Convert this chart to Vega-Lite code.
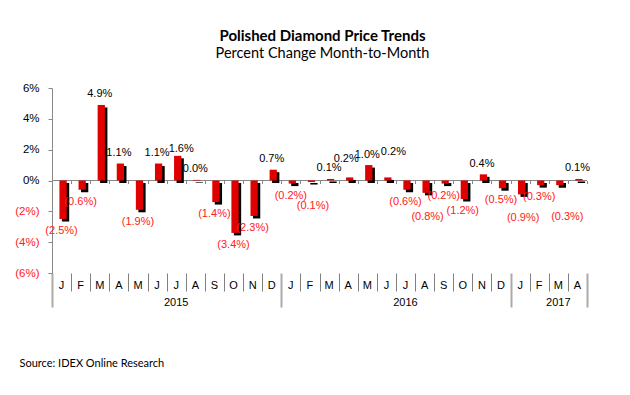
{
  "$schema": "https://vega.github.io/schema/vega-lite/v6.json",
  "width": 535,
  "height": 185,
  "autosize": "none",
  "padding": {"left": 52, "top": 88, "right": 43, "bottom": 122},
  "background": "white",
  "title": {
    "text": "Polished Diamond Price Trends",
    "subtitle": "Percent Change Month-to-Month",
    "font": "Lato",
    "fontSize": 15,
    "fontWeight": "bold",
    "color": "#000000",
    "subtitleFont": "Lato",
    "subtitleFontSize": 14.5,
    "subtitleColor": "#000000",
    "subtitlePadding": 2.5,
    "anchor": "middle",
    "frame": "group",
    "offset": 22,
    "dx": 3
  },
  "config": {
    "view": {"stroke": null},
    "axis": {"labelFont": "Liberation Sans", "labelFontSize": 11, "labelColor": "#000000", "grid": false}
  },
  "data": {
    "values": [
      {"month": "2015-01", "v": -0.025},
      {"month": "2015-02", "v": -0.006},
      {"month": "2015-03", "v": 0.049},
      {"month": "2015-04", "v": 0.011},
      {"month": "2015-05", "v": -0.019},
      {"month": "2015-06", "v": 0.011},
      {"month": "2015-07", "v": 0.016},
      {"month": "2015-08", "v": 0.0004},
      {"month": "2015-09", "v": -0.014},
      {"month": "2015-10", "v": -0.034},
      {"month": "2015-11", "v": -0.023},
      {"month": "2015-12", "v": 0.007},
      {"month": "2016-01", "v": -0.002},
      {"month": "2016-02", "v": -0.001},
      {"month": "2016-03", "v": 0.001},
      {"month": "2016-04", "v": 0.002},
      {"month": "2016-05", "v": 0.010},
      {"month": "2016-06", "v": 0.002},
      {"month": "2016-07", "v": -0.006},
      {"month": "2016-08", "v": -0.008},
      {"month": "2016-09", "v": -0.002},
      {"month": "2016-10", "v": -0.012},
      {"month": "2016-11", "v": 0.004},
      {"month": "2016-12", "v": -0.005},
      {"month": "2017-01", "v": -0.009},
      {"month": "2017-02", "v": -0.003},
      {"month": "2017-03", "v": -0.003},
      {"month": "2017-04", "v": 0.001}
    ]
  },
  "layer": [
    {
      "mark": {"type": "rule", "color": "#888888", "strokeWidth": 1},
      "encoding": {"y": {"datum": 0, "type": "quantitative", "axis": null}}
    },
    {
      "mark": {"type": "bar", "color": "#000000", "xOffset": 4, "yOffset": 2.5, "y2Offset": 2.5, "width": {"band": 0.38}},
      "encoding": {
        "x": {
          "field": "month", "type": "ordinal", "sort": null,
          "scale": {"paddingInner": 0, "paddingOuter": 0},
          "axis": {
            "orient": "bottom", "title": null, "domain": false, "labels": false,
            "tickBand": "extent",
            "tickSize": {"condition": {"test": "!datum.value || datum.value == '2015-12' || datum.value == '2016-12' || datum.value == '2017-04'", "value": 34}, "value": 18},
            "tickColor": {"condition": {"test": "!datum.value || datum.value == '2015-12' || datum.value == '2016-12' || datum.value == '2017-04'", "value": "#aaaaaa"}, "value": "#808080"},
            "tickWidth": {"condition": {"test": "!datum.value || datum.value == '2015-12' || datum.value == '2016-12' || datum.value == '2017-04'", "value": 2}, "value": 1}
          }
        },
        "y": {
          "field": "v", "type": "quantitative",
          "scale": {"domain": [-0.06, 0.06], "nice": false},
          "axis": {
            "orient": "left",
            "title": null,
            "values": [-0.06, -0.04, -0.02, 0, 0.02, 0.04, 0.06],
            "format": "(.0%",
            "domainColor": "#888888",
            "tickColor": "#888888",
            "tickSize": 4,
            "labelPadding": 9,
            "labelFontSize": 11.5,
            "labelColor": {"condition": {"test": "datum.value < 0", "value": "#ff2020"}, "value": "#000000"}
          }
        },
        "y2": {"datum": 0}
      }
    },
    {
      "mark": {"type": "bar", "color": "#e00000", "xOffset": 1.5, "width": {"band": 0.38}},
      "encoding": {
        "x": {
          "field": "month", "type": "ordinal", "sort": null,
          "axis": {
            "orient": "bottom", "title": null, "domain": false, "ticks": false,
            "labelExpr": "['J','F','M','A','M','J','J','A','S','O','N','D'][toNumber(slice(datum.value,5))-1]",
            "labelAngle": 0,
            "labelPadding": 6
          }
        },
        "y": {"field": "v", "type": "quantitative", "axis": null},
        "y2": {"datum": 0}
      }
    },
    {
      "transform": [{"filter": "datum.v >= 0 && indexof(['2015-07','2016-04','2016-06'], datum.month) < 0"}],
      "mark": {"type": "text", "baseline": "middle", "dy": -10.5, "font": "Liberation Sans", "fontSize": 11, "color": "#000000"},
      "encoding": {
        "x": {
          "field": "month", "type": "ordinal", "sort": null,
          "axis": {
            "orient": "bottom", "domain": false, "ticks": false,
            "values": ["2015-07", "2016-07", "2017-03"],
            "bandPosition": 0,
            "labelExpr": "slice(datum.value,0,4)",
            "labelAngle": 0,
            "labelPadding": 23,
            "title": "Source: IDEX Online Research",
            "titleFont": "Lato",
            "titleFontSize": 11,
            "titleFontWeight": "normal",
            "titleColor": "#000000",
            "titleAlign": "left",
            "titleBaseline": "alphabetic",
            "titleX": -33,
            "titleY": 93
          }
        },
        "y": {"field": "v", "type": "quantitative", "axis": null},
        "text": {"field": "v", "type": "quantitative", "format": "(.1%"}
      }
    },
    {
      "transform": [{"filter": "datum.month == '2015-07'"}],
      "mark": {"type": "text", "baseline": "middle", "dy": -7, "dx": 5, "font": "Liberation Sans", "fontSize": 11, "color": "#000000"},
      "encoding": {
        "x": {"field": "month", "type": "ordinal", "sort": null, "axis": null},
        "y": {"field": "v", "type": "quantitative", "axis": null},
        "text": {"field": "v", "type": "quantitative", "format": "(.1%"}
      }
    },
    {
      "transform": [{"filter": "datum.month == '2016-04'"}],
      "mark": {"type": "text", "baseline": "middle", "dy": -18, "dx": -2, "font": "Liberation Sans", "fontSize": 11, "color": "#000000"},
      "encoding": {
        "x": {"field": "month", "type": "ordinal", "sort": null, "axis": null},
        "y": {"field": "v", "type": "quantitative", "axis": null},
        "text": {"field": "v", "type": "quantitative", "format": "(.1%"}
      }
    },
    {
      "transform": [{"filter": "datum.month == '2016-06'"}],
      "mark": {"type": "text", "baseline": "middle", "dy": -25, "dx": 7, "font": "Liberation Sans", "fontSize": 11, "color": "#000000"},
      "encoding": {
        "x": {"field": "month", "type": "ordinal", "sort": null, "axis": null},
        "y": {"field": "v", "type": "quantitative", "axis": null},
        "text": {"field": "v", "type": "quantitative", "format": "(.1%"}
      }
    },
    {
      "transform": [{"filter": "datum.v < 0 && indexof(['2016-02','2016-08','2017-01','2017-03'], datum.month) < 0"}],
      "mark": {"type": "text", "baseline": "middle", "dy": 12, "font": "Liberation Sans", "fontSize": 11, "color": "#ff2020"},
      "encoding": {
        "x": {
          "field": "month", "type": "ordinal", "sort": null,
          "axis": {
            "orient": "bottom", "offset": -92.5, "title": null, "domain": false, "labels": false,
            "tickBand": "extent", "tickSize": 3, "tickColor": "#888888"
          }
        },
        "y": {"field": "v", "type": "quantitative", "axis": null},
        "text": {"field": "v", "type": "quantitative", "format": "(.1%"}
      }
    },
    {
      "transform": [{"filter": "indexof(['2016-02','2016-08','2017-01'], datum.month) >= 0"}],
      "mark": {"type": "text", "baseline": "middle", "dy": 24, "dx": 3, "font": "Liberation Sans", "fontSize": 11, "color": "#ff2020"},
      "encoding": {
        "x": {"field": "month", "type": "ordinal", "sort": null, "axis": null},
        "y": {"field": "v", "type": "quantitative", "axis": null},
        "text": {"field": "v", "type": "quantitative", "format": "(.1%"}
      }
    },
    {
      "transform": [{"filter": "datum.month == '2017-03'"}],
      "mark": {"type": "text", "baseline": "middle", "dy": 32, "dx": 9, "font": "Liberation Sans", "fontSize": 11, "color": "#ff2020"},
      "encoding": {
        "x": {"field": "month", "type": "ordinal", "sort": null, "axis": null},
        "y": {"field": "v", "type": "quantitative", "axis": null},
        "text": {"field": "v", "type": "quantitative", "format": "(.1%"}
      }
    }
  ],
  "resolve": {"axis": {"x": "independent", "y": "independent"}}
}
